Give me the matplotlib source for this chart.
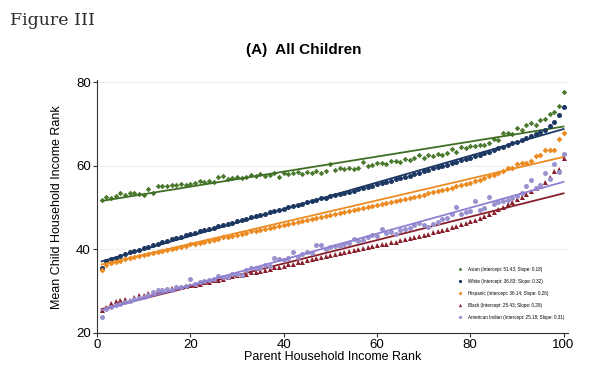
import numpy as np
import matplotlib
matplotlib.use("Agg")
import matplotlib.pyplot as plt

ranks = np.arange(1, 101)

asian = [51.9, 52.6, 52.4, 52.7, 53.4, 53.0, 53.5, 53.4, 53.3, 53.0,
         54.4, 53.6, 55.1, 55.3, 55.2, 55.5, 55.4, 55.6, 55.5, 55.7,
         56.0, 56.3, 56.1, 56.5, 56.2, 57.4, 57.5, 56.9, 57.1, 57.3,
         57.0, 57.4, 57.8, 57.6, 58.1, 57.5, 57.9, 58.2, 57.4, 58.4,
         58.0, 58.3, 58.6, 58.1, 58.6, 58.2, 58.9, 58.4, 58.9, 60.4,
         59.1, 59.5, 59.3, 59.6, 59.3, 59.6, 61.0, 59.9, 60.3, 60.6,
         60.8, 60.4, 61.1, 61.2, 60.9, 61.6, 61.3, 62.0, 62.5, 61.9,
         62.7, 62.3, 62.9, 62.6, 63.1, 64.0, 63.3, 64.6, 64.3, 64.8,
         64.7, 65.1, 65.0, 65.5, 66.4, 66.2, 67.8, 68.0, 67.6, 69.1,
         68.7, 69.7, 70.3, 69.9, 71.0, 71.3, 72.4, 72.9, 74.4, 77.6]

white = [35.5, 37.3, 37.7, 38.0, 38.5, 38.9, 39.3, 39.6, 39.9, 40.3,
         40.7, 41.1, 41.4, 41.8, 42.1, 42.4, 42.7, 43.1, 43.4, 43.6,
         44.0, 44.3, 44.6, 44.9, 45.2, 45.5, 45.9, 46.1, 46.4, 46.8,
         47.0, 47.4, 47.7, 48.0, 48.3, 48.6, 48.9, 49.2, 49.5, 49.8,
         50.1, 50.4, 50.7, 51.0, 51.3, 51.6, 51.9, 52.2, 52.4, 52.7,
         53.0, 53.3, 53.5, 53.8, 54.1, 54.4, 54.7, 55.0, 55.3, 55.6,
         55.9, 56.2, 56.5, 56.8, 57.1, 57.4, 57.7, 58.1, 58.4, 58.7,
         59.0, 59.4, 59.7, 60.0, 60.3, 60.7, 61.0, 61.3, 61.7, 62.0,
         62.4, 62.7, 63.1, 63.4, 63.8, 64.2, 64.6, 65.0, 65.4, 65.8,
         66.3, 66.7, 67.2, 67.6, 68.1, 68.7, 69.6, 70.4, 72.1, 74.1]

hispanic = [35.2, 36.3, 36.8, 37.0, 37.3, 37.6, 37.9, 38.1, 38.4, 38.6,
            38.9, 39.2, 39.4, 39.7, 39.9, 40.2, 40.4, 40.7, 40.9, 41.2,
            41.4, 41.6, 41.9, 42.1, 42.3, 42.6, 42.9, 43.0, 43.3, 43.5,
            43.8, 44.0, 44.3, 44.5, 44.7, 45.0, 45.2, 45.4, 45.7, 45.9,
            46.1, 46.4, 46.6, 46.8, 47.1, 47.3, 47.6, 47.8, 48.1, 48.2,
            48.6, 48.7, 49.0, 49.2, 49.4, 49.7, 49.9, 50.2, 50.4, 50.6,
            50.9, 51.1, 51.4, 51.6, 51.8, 52.1, 52.3, 52.6, 52.8, 53.1,
            53.4, 53.7, 53.9, 54.2, 54.5, 54.8, 55.1, 55.4, 55.7, 56.0,
            56.3, 56.7, 57.0, 57.5, 57.9, 58.4, 58.9, 59.4, 59.6, 60.5,
            60.8, 60.7, 61.2, 62.3, 62.6, 63.7, 63.9, 63.8, 66.4, 67.9]

black = [25.5, 26.3, 27.3, 27.6, 28.0, 28.2, 28.0, 28.5, 29.0, 29.2,
         29.5, 29.6, 30.0, 30.3, 30.4, 30.7, 30.9, 31.0, 31.2, 31.4,
         31.6, 31.8, 32.1, 32.3, 32.6, 32.8, 33.0, 33.3, 33.6, 33.8,
         34.0, 34.2, 34.5, 34.7, 34.9, 35.2, 35.4, 35.7, 35.9, 36.1,
         36.4, 36.6, 36.9, 37.1, 37.4, 37.6, 37.9, 38.2, 38.4, 38.6,
         38.8, 39.1, 39.3, 39.6, 39.8, 40.0, 40.3, 40.5, 40.8, 41.0,
         41.2, 41.4, 41.7, 41.9, 42.2, 42.4, 42.7, 43.0, 43.2, 43.5,
         43.8, 44.1, 44.4, 44.7, 45.0, 45.3, 45.6, 46.0, 46.3, 46.7,
         47.1, 47.5, 48.0, 48.5, 49.0, 49.6, 50.2, 50.8, 51.3, 52.0,
         52.6, 53.2, 54.0, 54.6, 55.3, 56.2, 57.4, 58.8, 59.3, 61.8]

american_indian = [23.9, 25.8, 26.3, 26.6, 27.0, 27.4, 27.6, 28.1, 28.4, 28.7,
                   29.2, 29.9, 30.2, 30.4, 30.6, 30.4, 30.9, 31.1, 31.2, 33.0,
                   31.7, 32.1, 32.4, 32.7, 33.0, 33.6, 33.5, 33.4, 34.1, 34.2,
                   34.0, 35.0, 35.6, 35.5, 35.6, 36.2, 36.1, 37.9, 37.6, 37.4,
                   38.0, 39.4, 38.3, 38.9, 39.5, 39.2, 41.1, 41.0, 40.1, 40.6,
                   40.8, 40.9, 41.4, 41.6, 42.5, 42.0, 42.3, 42.9, 43.4, 43.3,
                   44.9, 44.0, 44.2, 43.7, 44.6, 45.0, 45.2, 45.8, 46.4, 45.9,
                   45.4, 46.2, 46.6, 47.2, 47.6, 48.4, 50.2, 48.6, 48.9, 49.2,
                   51.5, 49.4, 50.0, 52.5, 50.8, 51.3, 51.5, 51.8, 52.3, 52.9,
                   53.5, 55.1, 56.7, 54.7, 55.5, 58.4, 56.8, 60.5, 58.6, 62.9]

groups = ["Asian", "White", "Hispanic", "Black", "American Indian"]
intercepts = [51.43, 36.83, 36.14, 25.43, 25.18]
slopes = [0.18, 0.32, 0.26, 0.28, 0.31]
series = [asian, white, hispanic, black, american_indian]

point_colors = ["#4b7a2e", "#1d3763", "#ec8b22", "#8a1f2c", "#9a92cf"]
line_colors = ["#3f6e24", "#1d3763", "#ec8b22", "#8a1f2c", "#8f80d2"]
markers = ["D", "o", "D", "^", "o"]
sizes = [2.8, 3.6, 3.0, 3.6, 3.6]

plt.rcParams["font.family"] = ["Liberation Sans", "DejaVu Sans"]

fig = plt.figure(figsize=(5.95, 3.8), dpi=100)
ax = fig.add_axes([0.163, 0.1237, 0.792, 0.665])

for name, b0, b1, vals, pc, lc, m, s in zip(groups, intercepts, slopes, series,
                                             point_colors, line_colors, markers, sizes):
    ax.plot(ranks, vals, linestyle="none", marker=m, markersize=s, color=pc,
            markeredgewidth=0, label=f"{name} (Intercept: {b0:.2f}; Slope: {b1:.2f})")
    fit_x = np.array([1, 100])
    ax.plot(fit_x, b0 + b1 * fit_x, color=lc, linewidth=1.3)

ax.set_xlim(0, 101)
ax.set_ylim(20, 80.5)
ax.set_xticks([0, 20, 40, 60, 80, 100])
ax.set_yticks([20, 40, 60, 80])
ax.yaxis.grid(True, color="#eeeeee", linewidth=0.8)
ax.set_axisbelow(True)
for side in ["top", "right"]:
    ax.spines[side].set_visible(False)
ax.spines["left"].set_color("#333333")
ax.spines["bottom"].set_color("#333333")
ax.tick_params(labelsize=9.5, length=3, pad=1.5, color="#333333")
ax.set_xlabel("Parent Household Income Rank", fontsize=9, labelpad=0)
ax.set_ylabel("Mean Child Household Income Rank", fontsize=9, labelpad=9)

leg = ax.legend(loc="lower right", bbox_to_anchor=(1.0, 0.035), frameon=False,
                fontsize=3.3, handlelength=0.7, handletextpad=1.3,
                labelspacing=1.55, markerscale=0.65)

fig.text(0.51, 0.868, "(A)  All Children", ha="center", va="center",
         fontsize=11, fontweight="bold")
fig.text(0.017, 0.945, "Figure III", ha="left", va="center", fontsize=12.5,
         family="DejaVu Serif", color="#2a2a2a")

fig.savefig("out.png", dpi=100)
